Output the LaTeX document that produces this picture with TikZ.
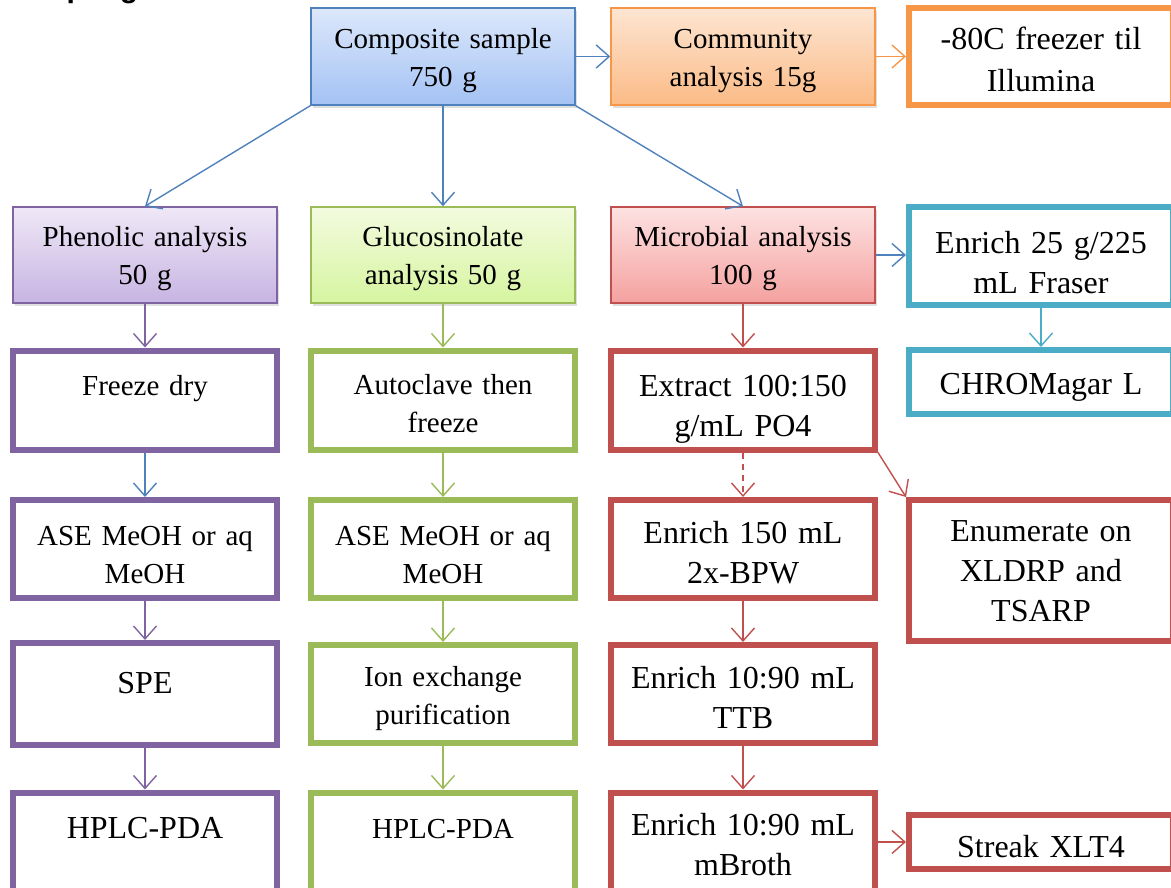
\documentclass[tikz,border=0pt]{standalone}
\usepackage{fontspec}
\setmainfont{Liberation Serif}
\newfontfamily\headfont{Liberation Sans}
\usetikzlibrary{arrows.meta,shadows}
\definecolor{cblue}{HTML}{4F81BD}
\definecolor{cbluet}{HTML}{DCE8FB}
\definecolor{cblueb}{HTML}{A4C2F4}
\definecolor{corange}{HTML}{F79646}
\definecolor{coranget}{HTML}{FDE5D2}
\definecolor{corangeb}{HTML}{FBBB86}
\definecolor{cpurple}{HTML}{8064A2}
\definecolor{cpurplet}{HTML}{EFE8F7}
\definecolor{cpurpleb}{HTML}{C7B4E2}
\definecolor{cgreen}{HTML}{9BBB59}
\definecolor{cgreent}{HTML}{F3FBDF}
\definecolor{cgreenb}{HTML}{D6F5A0}
\definecolor{cred}{HTML}{C0504D}
\definecolor{credt}{HTML}{FDE2E2}
\definecolor{credb}{HTML}{F4A19F}
\definecolor{cteal}{HTML}{4BACC6}
% taller first line: moves the text block down by half of the argument
\newcommand\dn[1]{\rule{0pt}{\dimexpr0.7\baselineskip+#1pt\relax}}
\begin{document}
\begin{tikzpicture}[x=1pt,y=-1pt,
  base/.style={rectangle, align=center, inner sep=0pt, text width=255pt, minimum width=264pt},
  small/.style={font=\fontsize{29}{38}\selectfont},
  big/.style={font=\fontsize{32}{40}\selectfont},
  colbox/.style={base, small, line width=1.5pt, draw=#1, minimum height=96pt,
     drop shadow={opacity=0.25, shadow xshift=2pt, shadow yshift=-3pt}},
  whitebox/.style={base, line width=6pt, draw=#1, fill=white},
  arr/.style={line width=1.4pt, -{Straight Barb[length=13pt,width=23pt,line width=1.4pt]}}
]
\useasboundingbox (0,0) rectangle (1171,888);
\clip (0,0) rectangle (1171,888);

\node[anchor=base west, inner sep=0pt, font=\headfont\bfseries\fontsize{30}{36}\selectfont] (title) at (3,-2) {Sampling};

% row 1
\node[colbox=cblue, top color=cbluet, bottom color=cblueb, minimum height=97pt] (comp) at (443,56.5) {\dn{6}\strut Composite sample\\\strut 750 g};
\node[colbox=corange, top color=coranget, bottom color=corangeb, minimum height=97pt] (comm) at (743,56.5) {\dn{6}\strut Community\\\strut analysis 15g};
\node[whitebox=corange, font=\fontsize{32}{42}\selectfont, minimum height=97pt] (freez) at (1041,56.5) {\dn{12}\strut -80C freezer til\\\strut Illumina};

% row 2
\node[colbox=cpurple, top color=cpurplet, bottom color=cpurpleb] (phen) at (145,255) {\dn{6}\strut Phenolic analysis\\\strut 50 g};
\node[colbox=cgreen, top color=cgreent, bottom color=cgreenb] (gluc) at (443,255) {\dn{6}\strut Glucosinolate\\\strut analysis 50 g};
\node[colbox=cred, top color=credt, bottom color=credb] (micro) at (743,255) {\dn{6}\strut Microbial analysis\\\strut 100 g};
\node[whitebox=cteal, big, minimum height=90pt] (enr25) at (1041,256) {\dn{18}\strut Enrich 25 g/225\\\strut mL Fraser};

% row 3
\node[whitebox=cpurple, small, minimum height=99pt] (fdry) at (145,400) {\dn{14}\strut Freeze dry\\\strut};
\node[whitebox=cgreen, small, minimum height=99pt] (auto) at (443,400) {\dn{12}\strut Autoclave then\\\strut freeze};
\node[whitebox=cred, big, minimum height=99pt] (extr) at (743,400) {\dn{16}\strut Extract 100:150\\\strut g/mL PO4};
\node[whitebox=cteal, big, minimum height=64pt] (chrom) at (1041,382) {\dn{8}\strut CHROMagar L};

% row 4
\node[whitebox=cpurple, small, minimum height=98pt] (ase1) at (145,549) {\dn{16}\strut ASE MeOH or aq\\\strut MeOH};
\node[whitebox=cgreen, small, minimum height=98pt] (ase2) at (443,549) {\dn{16}\strut ASE MeOH or aq\\\strut MeOH};
\node[whitebox=cred, big, minimum height=98pt] (bpw) at (743,549) {\dn{12}\strut Enrich 150 mL\\\strut 2x-BPW};
\node[whitebox=cred, big, minimum height=141pt] (enum) at (1041,570.5) {\dn{6}\strut Enumerate on\\\strut XLDRP and\\\strut TSARP};

% row 5
\node[whitebox=cpurple, big, minimum height=98pt] (spe) at (145,694) {\dn{22}\strut SPE\\\strut};
\node[whitebox=cgreen, small, minimum height=98pt] (ion) at (443,694) {\dn{8}\strut Ion exchange\\\strut purification};
\node[whitebox=cred, big, minimum height=98pt] (ttb) at (743,694) {\dn{12}\strut Enrich 10:90 mL\\\strut TTB};

% row 6
\node[whitebox=cpurple, big, minimum height=99pt] (hplc1) at (145,842) {\dn{16}\strut HPLC-PDA\\\strut};
\node[whitebox=cgreen, small, minimum height=99pt] (hplc2) at (443,842) {\dn{16}\strut HPLC-PDA\\\strut};
\node[whitebox=cred, big, minimum height=99pt] (mbr) at (743,842) {\dn{10}\strut Enrich 10:90 mL\\\strut mBroth};
\node[whitebox=cred, big, minimum height=52pt] (streak) at (1041,842) {\dn{14}\strut Streak XLT4};

% connectors
\draw[arr, cblue] (comp) -- (comm);
\draw[arr, corange] (comm) -- (freez);
\draw[arr, cblue] (comp.south west) -- (phen.north);
\draw[arr, cblue] (comp) -- (gluc);
\draw[arr, cblue] (comp.south east) -- (micro.north);
\draw[arr, cblue] (micro.east) -- (enr25.west |- micro.east);
\draw[arr, cteal] (enr25) -- (chrom);

\draw[arr, cpurple] (phen) -- (fdry);
\draw[arr, cblue] (fdry) -- (ase1);
\draw[arr, cpurple] (ase1) -- (spe);
\draw[arr, cpurple] (spe) -- (hplc1);

\draw[arr, cgreen] (gluc) -- (auto);
\draw[arr, cgreen] (auto) -- (ase2);
\draw[arr, cgreen] (ase2) -- (ion);
\draw[arr, cgreen] (ion) -- (hplc2);

\draw[arr, cred] (micro) -- (extr);
\draw[arr, cred, dash pattern=on 6pt off 5pt] (extr) -- (bpw);
\draw[arr, cred] (extr.south east) -- (enum.north west);
\draw[arr, cred] (bpw) -- (ttb);
\draw[arr, cred] (ttb) -- (mbr);
\draw[arr, cred] (mbr) -- (streak);
\end{tikzpicture}
\end{document}
